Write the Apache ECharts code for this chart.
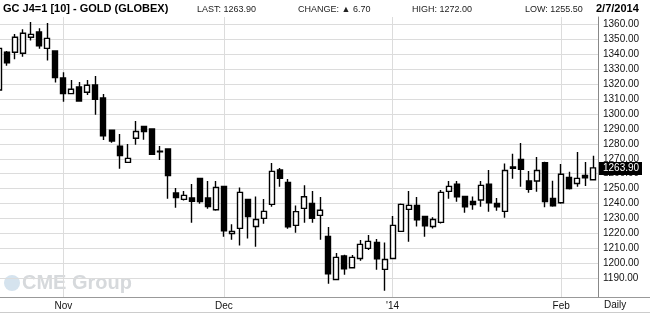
<!DOCTYPE html>
<html><head><meta charset="utf-8">
<script src="https://cdn.jsdelivr.net/npm/echarts@6/dist/echarts.min.js"></script>
<style>html,body{margin:0;padding:0;background:#fff}#c{width:650px;height:314px}</style>
</head><body><div id="c"></div>
<script>
const dates = [
 '2013-10-22','2013-10-23','2013-10-24','2013-10-25','2013-10-28','2013-10-29','2013-10-30','2013-10-31',
 '2013-11-01','2013-11-04','2013-11-05','2013-11-06','2013-11-07','2013-11-08','2013-11-11','2013-11-12','2013-11-13','2013-11-14','2013-11-15','2013-11-18','2013-11-19','2013-11-20','2013-11-21','2013-11-22','2013-11-25','2013-11-26','2013-11-27','2013-11-29',
 '2013-12-02','2013-12-03','2013-12-04','2013-12-05','2013-12-06','2013-12-09','2013-12-10','2013-12-11','2013-12-12','2013-12-13','2013-12-16','2013-12-17','2013-12-18','2013-12-19','2013-12-20','2013-12-23','2013-12-24','2013-12-26','2013-12-27','2013-12-30','2013-12-31',
 '2014-01-02','2014-01-03','2014-01-06','2014-01-07','2014-01-08','2014-01-09','2014-01-10','2014-01-13','2014-01-14','2014-01-15','2014-01-16','2014-01-17','2014-01-21','2014-01-22','2014-01-23','2014-01-24','2014-01-27','2014-01-28','2014-01-29','2014-01-30','2014-01-31',
 '2014-02-03','2014-02-04','2014-02-05','2014-02-06','2014-02-07'
];
const opens = [1316.0,1341.3,1341.3,1340.6,1351.3,1354.9,1343.9,1342.1,
 1324.1,1313.6,1318.0,1314.5,1319.4,1310.7,1289.2,1278.5,1267.6,1283.7,1291.7,1289.9,1275.0,1276.5,1247.1,1242.8,1243.7,1256.9,1243.7,1235.9,
 1251.5,1220.0,1223.4,1242.8,1224.7,1230.1,1239.5,1262.5,1254.2,1225.4,1236.8,1240.1,1232.1,1218.0,1189.2,1204.9,1197.1,1203.3,1210.0,1214.0,1196.0,
 1203.3,1221.4,1236.1,1238.8,1231.4,1224.7,1227.4,1248.2,1252.9,1244.8,1241.5,1242.4,1252.9,1240.1,1234.8,1264.5,1269.6,1255.1,1255.1,1267.4,1243.5,
 1240.6,1257.5,1253.5,1258.8,1256.0];
const closes = [1343.9,1334.3,1351.3,1354.0,1353.3,1345.7,1350.6,1324.3,
 1313.6,1316.5,1308.7,1319.2,1309.8,1285.4,1281.9,1272.1,1270.3,1288.3,1288.3,1273.0,1274.6,1258.7,1244.0,1245.5,1241.5,1241.3,1238.1,1250.8,
 1221.8,1221.4,1247.5,1231.4,1229.4,1234.8,1261.6,1256.9,1224.5,1234.6,1244.6,1230.1,1235.5,1193.0,1204.0,1196.4,1204.0,1212.7,1214.7,1203.1,1202.6,
 1225.4,1239.5,1238.8,1229.2,1225.2,1229.4,1247.5,1251.5,1244.6,1237.9,1239.3,1252.2,1240.6,1237.9,1262.2,1263.6,1262.9,1249.5,1262.2,1241.3,1238.6,
 1259.6,1250.0,1256.9,1257.2,1263.9];
const lows = [1314.0,1332.3,1336.6,1338.3,1349.1,1343.7,1335.7,1321.0,
 1308.2,1313.6,1308.2,1312.7,1299.5,1282.5,1280.8,1263.4,1267.6,1279.4,1282.8,1273.0,1269.2,1243.3,1237.2,1242.1,1227.2,1239.9,1236.6,1235.2,
 1217.8,1215.8,1212.0,1216.7,1211.1,1226.5,1237.9,1251.3,1223.2,1220.5,1227.2,1227.2,1215.8,1186.3,1189.2,1192.4,1196.6,1201.7,1208.9,1195.7,1181.7,
 1203.3,1221.4,1214.5,1224.7,1217.8,1223.4,1226.7,1243.3,1241.3,1233.9,1235.9,1237.9,1234.6,1235.2,1230.5,1256.7,1251.3,1247.3,1247.9,1237.5,1237.9,
 1239.9,1249.5,1251.3,1251.7,1255.5];
const highs = [1347.0,1342.1,1353.5,1356.7,1361.6,1357.3,1360.9,1342.5,
 1327.9,1322.7,1321.4,1322.7,1325.4,1313.4,1289.2,1286.6,1279.9,1295.3,1291.7,1289.9,1278.5,1276.5,1250.4,1248.4,1253.1,1256.9,1255.1,1255.1,
 1251.5,1226.1,1250.8,1242.8,1244.8,1243.0,1267.1,1263.8,1256.4,1238.8,1252.2,1248.4,1244.4,1224.3,1206.9,1205.8,1205.6,1215.6,1219.0,1216.3,1214.0,
 1231.7,1240.1,1248.4,1244.4,1231.4,1230.8,1249.1,1255.1,1255.1,1244.8,1244.8,1255.1,1262.5,1243.7,1266.9,1273.4,1280.5,1261.8,1271.2,1268.0,1255.3,
 1266.5,1261.3,1274.5,1267.8,1272.0];
const yTicks = [1190,1200,1210,1220,1230,1240,1250,1260,1270,1280,1290,1300,1310,1320,1330,1340,1350,1360];
const monthTickIdx = [8,28,49,70];
const monthLabels = ['Nov','Dec',"'14",'Feb'];
const lastPrice = 1263.90;

const candleData = dates.map((d,i)=>[i, opens[i], closes[i], lows[i], highs[i]]);

const chart = echarts.init(document.getElementById('c'), null, {renderer:'canvas'});
const FONT = 'Liberation Sans, Arial, sans-serif';
const baseGraphic = [
    {id:'t0', type:'text', left:3, top:3, style:{text:'GC J4=1 [10] - GOLD (GLOBEX)', font:'bold 11px '+FONT, fill:'#000'}},
    {id:'t1', type:'text', left:197, top:5, style:{text:'LAST: 1263.90', font:'9px '+FONT, fill:'#222'}},
    {id:'t2', type:'text', left:298, top:5, style:{text:'CHANGE: \u25B2 6.70', font:'9px '+FONT, fill:'#222'}},
    {id:'t3', type:'text', left:412, top:5, style:{text:'HIGH: 1272.00', font:'9px '+FONT, fill:'#222'}},
    {id:'t4', type:'text', left:525, top:5, style:{text:'LOW: 1255.50', font:'9px '+FONT, fill:'#222'}},
    {id:'t5', type:'text', left:596, top:3, style:{text:'2/7/2014', font:'bold 11px '+FONT, fill:'#000'}},
    {id:'t6', type:'text', left:604, top:300, style:{text:'Daily', font:'10px '+FONT, fill:'#111'}},
    {id:'l1', type:'line', shape:{x1:598, y1:297.5, x2:650, y2:297.5}, style:{stroke:'#999', lineWidth:1}},
    {id:'l2', type:'line', shape:{x1:0, y1:312.5, x2:650, y2:312.5}, style:{stroke:'#ccc', lineWidth:1}},
    {id:'wc', type:'circle', shape:{cx:12, cy:283, r:8}, style:{fill:'#d5e3ee'}, z:-1},
    {id:'wt', type:'text', left:22, top:273, z:-1, style:{text:'CME Group', font:'bold 20px '+FONT, fill:'#d6d9dc'}}
];
chart.setOption({
  animation:false,
  backgroundColor:'#fff',
  grid:{left:0, right:52, top:17, bottom:17, containLabel:false},
  xAxis:{
    type:'value', min:0.112, max:74.58,
    axisLine:{show:true, lineStyle:{color:'#999', width:1}},
    axisTick:{show:false, customValues:monthTickIdx},
    axisLabel:{customValues:monthTickIdx, margin:4, color:'#111', fontSize:10, fontFamily:FONT,
      formatter:(v)=>{const k=monthTickIdx.indexOf(Math.round(v)); return k>=0?monthLabels[k]:'';}},
    splitLine:{show:true, lineStyle:{color:'#dcdcdc', width:1}}
  },
  yAxis:{
    type:'value', position:'right', min:1177.48, max:1364.9, scale:true,
    axisLine:{show:true, lineStyle:{color:'#888', width:1}},
    axisTick:{show:false, customValues:yTicks},
    axisLabel:{customValues:yTicks, margin:5, color:'#111', fontSize:10, fontFamily:FONT,
      formatter:(v)=>v.toFixed(2)},
    splitLine:{show:true, lineStyle:{color:'#dcdcdc', width:1}}
  },
  series:[{
    type:'candlestick',
    data:candleData,
    encode:{x:0, y:[1,2,3,4]},
    barWidth:5.5,
    clip:false,
    itemStyle:{color:'#fff', color0:'#000', borderColor:'#000', borderColor0:'#000', borderWidth:1.4}
  }],
  graphic:baseGraphic
});
const py = chart.convertToPixel({yAxisIndex:0}, lastPrice);
const px = chart.convertToPixel({xAxisIndex:0}, 74.58);
chart.setOption({graphic: baseGraphic.concat([
  {id:'lb', type:'rect', shape:{x:px+1, y:Math.round(py)-6, width:43, height:13}, style:{fill:'#000'}, z:10},
  {id:'lt', type:'text', x:px+5, y:Math.round(py)-5, z:11, style:{text:lastPrice.toFixed(2), font:'10px '+FONT, fill:'#fff'}}
])});
</script>
</body></html>
